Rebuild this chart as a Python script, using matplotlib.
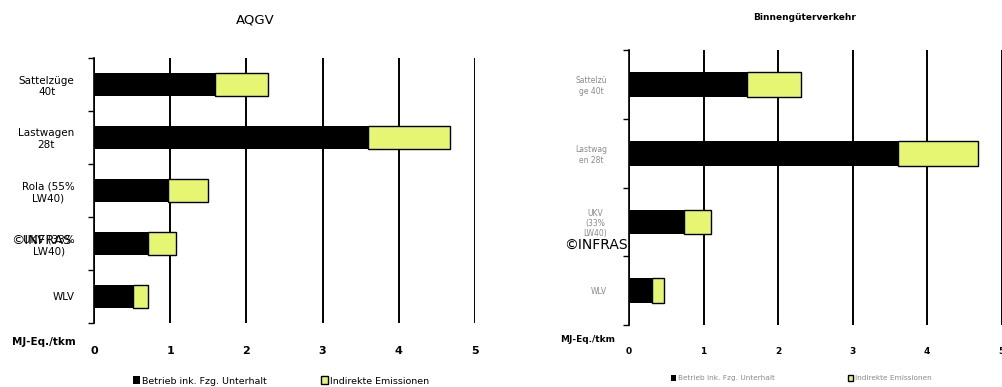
import matplotlib
matplotlib.use("Agg")
import matplotlib.pyplot as plt
import numpy as np

# AQGV panel
aqgv_labels = ["Sattelzüge\n40t", "Lastwagen\n28t", "Rola (55%\nLW40)", "UKV (33%\nLW40)", "WLV"]
aqgv_betrieb = [1.59, 3.59, 0.97, 0.71, 0.51]
aqgv_indirekt = [0.70, 1.08, 0.52, 0.37, 0.20]

# Binnengüterverkehr panel
bgv_labels = ["Sattelzü\nge 40t", "Lastwag\nen 28t", "UKV\n(33%\nLW40)", "WLV"]
bgv_betrieb = [1.58, 3.61, 0.74, 0.31]
bgv_indirekt = [0.73, 1.07, 0.36, 0.16]

x_ticks = [0, 1, 2, 3, 4, 5]
series_names = ["Betrieb ink. Fzg. Unterhalt", "Indirekte Emissionen"]
unit_label = "MJ-Eq./tkm"
yellow = "#E6F572"

fig = plt.figure(figsize=(10.02, 3.87), dpi=100)
W, H = 1002, 387


def panel(rect_px, labels, betrieb, indirekt, bar_h, lab_size, lab_color,
          lab_pad, tick_size, tick_pad, title, title_kw):
    x0, y0, x1, y1 = rect_px
    ax = fig.add_axes([x0 / W, 1 - y1 / H, (x1 - x0) / W, (y1 - y0) / H])
    n = len(labels)
    pos = np.arange(n)
    b1 = ax.barh(pos, betrieb, height=bar_h, color="black", linewidth=0)
    b2 = ax.barh(pos, indirekt, left=betrieb, height=bar_h, color=yellow,
                 edgecolor="black", linewidth=1.0)
    ax.set_xlim(0, 5)
    ax.set_ylim(n - 0.5, -0.5)
    for s in ["top", "right", "bottom"]:
        ax.spines[s].set_visible(False)
    ax.spines["left"].set_linewidth(1.2)
    ax.set_yticks(np.arange(n + 1) - 0.5)
    ax.set_yticklabels([])
    ax.set_yticks(pos, minor=True)
    ax.set_yticklabels(labels, minor=True, fontsize=lab_size, color=lab_color,
                       multialignment="center")
    ax.tick_params(axis="y", which="major", length=4, width=1, direction="out")
    ax.tick_params(axis="y", which="minor", length=0, pad=lab_pad)
    ax.set_xticks(x_ticks)
    ax.set_xticklabels([str(t) for t in x_ticks], fontsize=tick_size,
                       fontweight="bold")
    ax.tick_params(axis="x", length=0, pad=tick_pad)
    ax.xaxis.grid(True, color="black", linewidth=1.4)
    ax.set_axisbelow(True)
    fig.text(title[1] / W, 1 - title[2] / H, title[0], ha="center",
             va="center", **title_kw)
    return ax, b1, b2


axL, bL1, bL2 = panel((94, 58, 475, 323), aqgv_labels, aqgv_betrieb,
                      aqgv_indirekt, 0.42, 7.5, "black", 14, 8, 16.5,
                      ("AQGV", 255, 20), dict(fontsize=9.5))
axR, bR1, bR2 = panel((629, 50, 1001.5, 325), bgv_labels, bgv_betrieb,
                      bgv_indirekt, 0.36, 5.5, "#8a8a8a", 16, 6.5, 15.5,
                      ("Binnengüterverkehr", 805, 18),
                      dict(fontsize=6.5, fontweight="bold"))

fig.text(44 / W, 1 - 342 / H, unit_label, ha="center", va="center",
         fontsize=7.5, fontweight="bold")
fig.text(588 / W, 1 - 340 / H, unit_label, ha="center", va="center",
         fontsize=6.5, fontweight="bold")

# copyright marks
fig.text(41 / W, 1 - 241 / H, "©INFRAS", ha="center", va="center",
         fontsize=9.5)
fig.text(596 / W, 1 - 245 / H, "©INFRAS", ha="center", va="center",
         fontsize=10)

legL = fig.legend([bL1, bL2], series_names, loc="center left",
                  bbox_to_anchor=(133 / W, 1 - 381 / H), ncol=2,
                  frameon=False, fontsize=6.8, handlelength=0.7,
                  handleheight=0.9, handletextpad=0.3, columnspacing=5.7,
                  borderpad=0, borderaxespad=0)
legR = fig.legend([bR1, bR2], series_names, loc="center left",
                  bbox_to_anchor=(671 / W, 1 - 378 / H), ncol=2,
                  frameon=False, fontsize=5.3, handlelength=0.7,
                  handleheight=0.9, handletextpad=0.2, columnspacing=10.0,
                  borderpad=0, borderaxespad=0)
for t in legR.get_texts():
    t.set_color("#8a8a8a")

fig.savefig("out.png", dpi=100)
